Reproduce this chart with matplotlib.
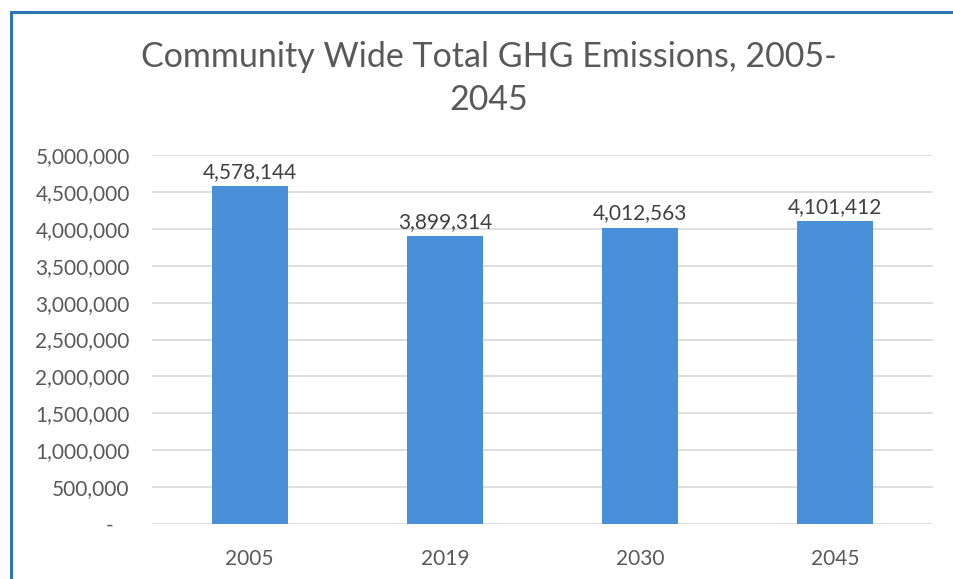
import matplotlib
matplotlib.use("Agg")
import matplotlib.pyplot as plt
from matplotlib.ticker import FuncFormatter, MultipleLocator
from matplotlib.lines import Line2D

plt.rcParams['font.family'] = ['Lato', 'DejaVu Sans']

years = ['2005', '2019', '2030', '2045']
emissions = [4578144, 3899314, 4012563, 4101412]

bar_color = '#4A90D9'
text_color = '#595959'

fig = plt.figure(figsize=(9.54, 5.79), dpi=100)
ax = fig.add_axes([152 / 954, 1 - 524 / 579, (933 - 152) / 954, (524 - 155) / 579])

x = range(len(years))
ax.bar(x, emissions, width=0.39, color=bar_color, zorder=3)
for xi, v in zip(x, emissions):
    ax.text(xi, v + 60000, f'{v:,}', ha='center', va='bottom',
            fontsize=15, color='#404040')

ax.set_xlim(-0.5, len(years) - 0.5)
ax.set_ylim(0, 5000000)
ax.yaxis.set_major_locator(MultipleLocator(500000))


def acct(v, pos):
    # zero shows as a dash, like accounting format
    return '-   ' if v == 0 else f'{int(v):,}'


ax.yaxis.set_major_formatter(FuncFormatter(acct))
ax.set_xticks(list(x))
ax.set_xticklabels(years)
ax.tick_params(axis='both', length=0, labelsize=15, labelcolor=text_color)
ax.tick_params(axis='y', pad=16)
ax.tick_params(axis='x', pad=18)
ax.grid(axis='y', color='#d9d9d9', linewidth=1.2, zorder=0)
for s in ax.spines.values():
    s.set_visible(False)

fig.text(489 / 954, 1 - 57 / 579, 'Community Wide Total GHG Emissions, 2005-',
         ha='center', va='center', fontsize=24.5, color=text_color)
fig.text(489 / 954, 1 - 100 / 579, '2045',
         ha='center', va='center', fontsize=24.5, color=text_color)

# blue frame along the top and left edge
fig.add_artist(Line2D([11 / 954, 11 / 954], [0, 1 - 12 / 579],
                      color='#2E75B6', linewidth=2.2, transform=fig.transFigure))
fig.add_artist(Line2D([11 / 954, 1], [1 - 12 / 579, 1 - 12 / 579],
                      color='#2E75B6', linewidth=2.2, transform=fig.transFigure))

fig.savefig('out.png', dpi=100)
